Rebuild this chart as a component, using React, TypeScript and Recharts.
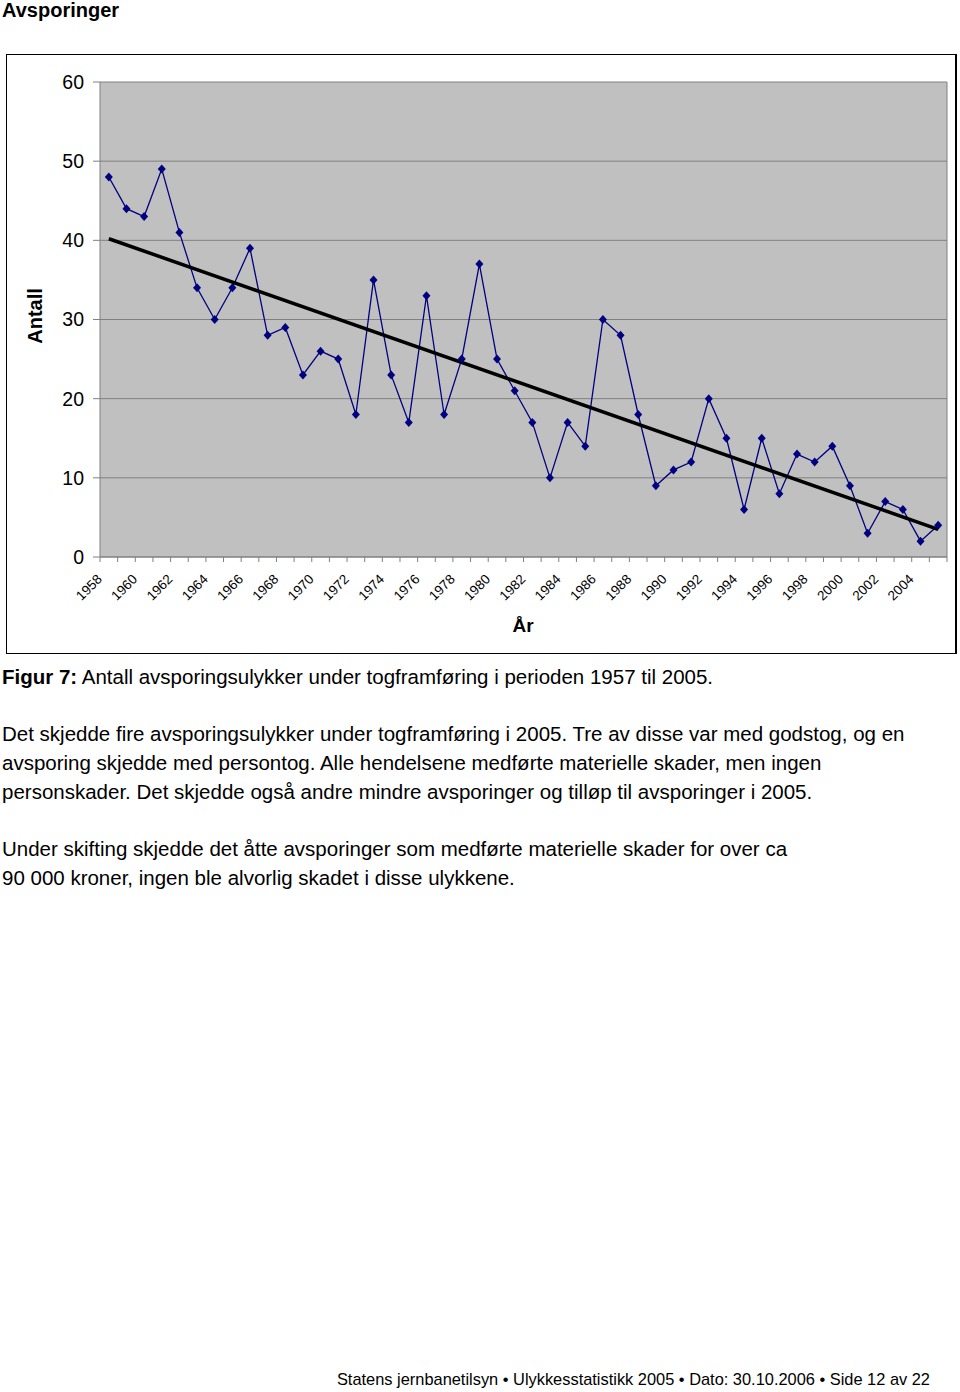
import { LineChart, Line, XAxis, YAxis, CartesianGrid } from 'recharts';

const FONT = '"Liberation Sans", Arial, Helvetica, sans-serif';

const years = [
  '1958', '1959', '1960', '1961', '1962', '1963', '1964', '1965', '1966', '1967',
  '1968', '1969', '1970', '1971', '1972', '1973', '1974', '1975', '1976', '1977',
  '1978', '1979', '1980', '1981', '1982', '1983', '1984', '1985', '1986', '1987',
  '1988', '1989', '1990', '1991', '1992', '1993', '1994', '1995', '1996', '1997',
  '1998', '1999', '2000', '2001', '2002', '2003', '2004', '2005',
];

const derailments = [
  48, 44, 43, 49, 41, 34, 30, 34, 39, 28,
  29, 23, 26, 25, 18, 35, 23, 17, 33, 18,
  25, 37, 25, 21, 17, 10, 17, 14, 30, 28,
  18, 9, 11, 12, 20, 15, 6, 15, 8, 13,
  12, 14, 9, 3, 7, 6, 2, 4,
];

// linear trend, read at its two ends
const trendStart = 40.2;
const trendEnd = 3.5;

const xTickLabels = [
  '1958', '1960', '1962', '1964', '1966', '1968', '1970', '1972', '1974', '1976', '1978', '1980',
  '1982', '1984', '1986', '1988', '1990', '1992', '1994', '1996', '1998', '2000', '2002', '2004',
];

const yTicks = [0, 10, 20, 30, 40, 50, 60];

const data = years.map((year, i) => ({
  year,
  count: derailments[i],
  trend: i === 0 ? trendStart : i === years.length - 1 ? trendEnd : null,
}));

function Diamond(props: any) {
  const { cx, cy, index } = props;
  if (cx == null || cy == null) return <g key={index} />;
  return (
    <path
      key={index}
      d={`M${cx},${cy - 4.5}L${cx + 4},${cy}L${cx},${cy + 4.5}L${cx - 4},${cy}Z`}
      fill="#000080"
    />
  );
}

function YearTick(props: any) {
  const { x, y, payload } = props;
  const half = payload.offset ?? 0;
  const isLast = payload.index === years.length - 1;
  return (
    <g>
      <line x1={x - half} x2={x - half} y1={y} y2={y + 5} stroke="#808080" />
      {isLast && <line x1={x + half} x2={x + half} y1={y} y2={y + 5} stroke="#808080" />}
      {xTickLabels.includes(payload.value) && (
        <text
          transform={`translate(${x - 6},${y + 23}) rotate(-45)`}
          textAnchor="end"
          fontSize={13.5}
          fill="#000"
          fontFamily={FONT}
        >
          {payload.value}
        </text>
      )}
    </g>
  );
}

const para: React.CSSProperties = {
  position: 'absolute',
  left: 2,
  fontSize: 20.5,
  lineHeight: '29px',
  whiteSpace: 'nowrap',
  color: '#000',
};

export default function App() {
  return (
    <div
      style={{
        position: 'absolute',
        left: 0,
        top: 0,
        width: 960,
        height: 1392,
        background: '#fff',
        fontFamily: FONT,
        overflow: 'hidden',
      }}
    >
      <div style={{ position: 'absolute', left: 2, top: 0, fontSize: 20, lineHeight: '20px', fontWeight: 'bold' }}>
        Avsporinger
      </div>

      <div
        style={{
          position: 'absolute',
          left: 6,
          top: 54,
          width: 951,
          height: 600,
          boxSizing: 'border-box',
          border: '1px solid #000',
          borderRightWidth: 2,
        }}
      />

      <div style={{ position: 'absolute', left: 0, top: 54 }}>
        <LineChart width={960} height={600} data={data} margin={{ top: 28, right: 13, bottom: 37, left: 0 }}>
          <CartesianGrid
            fill="#c0c0c0"
            fillOpacity={1}
            stroke="#808080"
            verticalCoordinatesGenerator={({ offset }: any) => [offset.left + offset.width]}
          />
          <XAxis
            dataKey="year"
            type="category"
            scale="band"
            interval={0}
            height={60}
            tickSize={0}
            tickMargin={0}
            tickLine={false}
            axisLine={{ stroke: '#808080' }}
            tick={<YearTick />}
          />
          <YAxis
            width={100}
            domain={[0, 60]}
            ticks={yTicks}
            interval={0}
            tickSize={7}
            tickMargin={9}
            tickLine={{ stroke: '#808080' }}
            axisLine={{ stroke: '#808080' }}
            tick={{ fontSize: 19.5, fill: '#000', fontFamily: FONT }}
          />
          <Line
            dataKey="count"
            stroke="#000080"
            strokeWidth={1.3}
            dot={<Diamond />}
            activeDot={false}
            isAnimationActive={false}
          />
          <Line
            dataKey="trend"
            stroke="#000"
            strokeWidth={3.5}
            dot={false}
            activeDot={false}
            connectNulls
            isAnimationActive={false}
          />
        </LineChart>
      </div>

      <div
        style={{
          position: 'absolute',
          left: 35,
          top: 316,
          transform: 'translate(-50%, -50%) rotate(-90deg)',
          fontSize: 20,
          lineHeight: '20px',
          fontWeight: 'bold',
          whiteSpace: 'nowrap',
        }}
      >
        Antall
      </div>
      <div
        style={{
          position: 'absolute',
          left: 523,
          top: 625,
          transform: 'translate(-50%, -50%)',
          fontSize: 19,
          lineHeight: '19px',
          fontWeight: 'bold',
          whiteSpace: 'nowrap',
        }}
      >
        År
      </div>

      <div style={{ ...para, top: 662 }}>
        <b>Figur 7:</b> Antall avsporingsulykker under togframføring i perioden 1957 til 2005.
      </div>
      <div style={{ ...para, top: 719 }}>
        Det skjedde fire avsporingsulykker under togframføring i 2005. Tre av disse var med godstog, og en
      </div>
      <div style={{ ...para, top: 748 }}>
        avsporing skjedde med persontog. Alle hendelsene medførte materielle skader, men ingen
      </div>
      <div style={{ ...para, top: 777 }}>
        personskader. Det skjedde også andre mindre avsporinger og tilløp til avsporinger i 2005.
      </div>
      <div style={{ ...para, top: 834 }}>
        Under skifting skjedde det åtte avsporinger som medførte materielle skader for over ca
      </div>
      <div style={{ ...para, top: 863 }}>
        90 000 kroner, ingen ble alvorlig skadet i disse ulykkene.
      </div>

      <div
        style={{
          position: 'absolute',
          right: 30,
          top: 1369,
          fontSize: 16.4,
          lineHeight: '20px',
          whiteSpace: 'nowrap',
        }}
      >
        Statens jernbanetilsyn • Ulykkesstatistikk 2005 • Dato: 30.10.2006 • Side 12 av 22
      </div>
    </div>
  );
}
